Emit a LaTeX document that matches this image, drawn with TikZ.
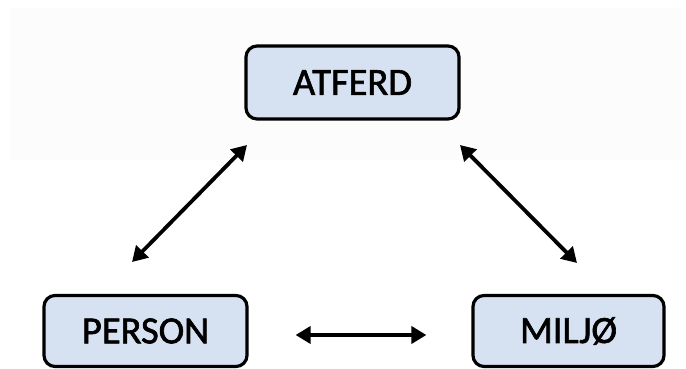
\documentclass[tikz,border=0pt]{standalone}
\usepackage{fontspec}
\setmainfont{Carlito}[FakeBold=1.6]
\usetikzlibrary{arrows.meta}
\definecolor{boxfill}{HTML}{D6E1F2}
\tikzset{
  factor/.style={draw=black, line width=3.2pt, fill=boxfill, rounded corners=11pt,
    inner sep=0pt, font=\fontsize{38.5}{40}\selectfont},
  dobbel/.style={line width=3.8pt, {Triangle[length=15pt,width=17pt]}-{Triangle[length=15pt,width=17pt]}}
}
\begin{document}
\begin{tikzpicture}[x=1pt, y=-1pt]
	\useasboundingbox (0,0) rectangle (686,369);
	\fill[black!1.2] (10,8) rectangle (682,160);
	% de tre faktorene
	\node[factor, minimum width=213pt, minimum height=73pt] (atferd) at (352.5,82.5) {ATFERD};
	\node[factor, minimum width=203pt, minimum height=71pt] (person) at (145.5,331) {PERSON};
	\node[factor, minimum width=191pt, minimum height=71pt] (miljo) at (568.5,331) {MILJØ};
	% frie ender for pilene
	\coordinate (a1) at (247,145);
	\coordinate (p1) at (132,262);
	\coordinate (a2) at (460,145);
	\coordinate (m1) at (577,263);
	\draw[dobbel] (p1) -- (a1);
	\draw[dobbel] (a2) -- (m1);
	\draw[dobbel] ([xshift=47pt,yshift=-4pt]person.east) -- ([xshift=-45pt,yshift=-4pt]miljo.west);
\end{tikzpicture}
\end{document}
